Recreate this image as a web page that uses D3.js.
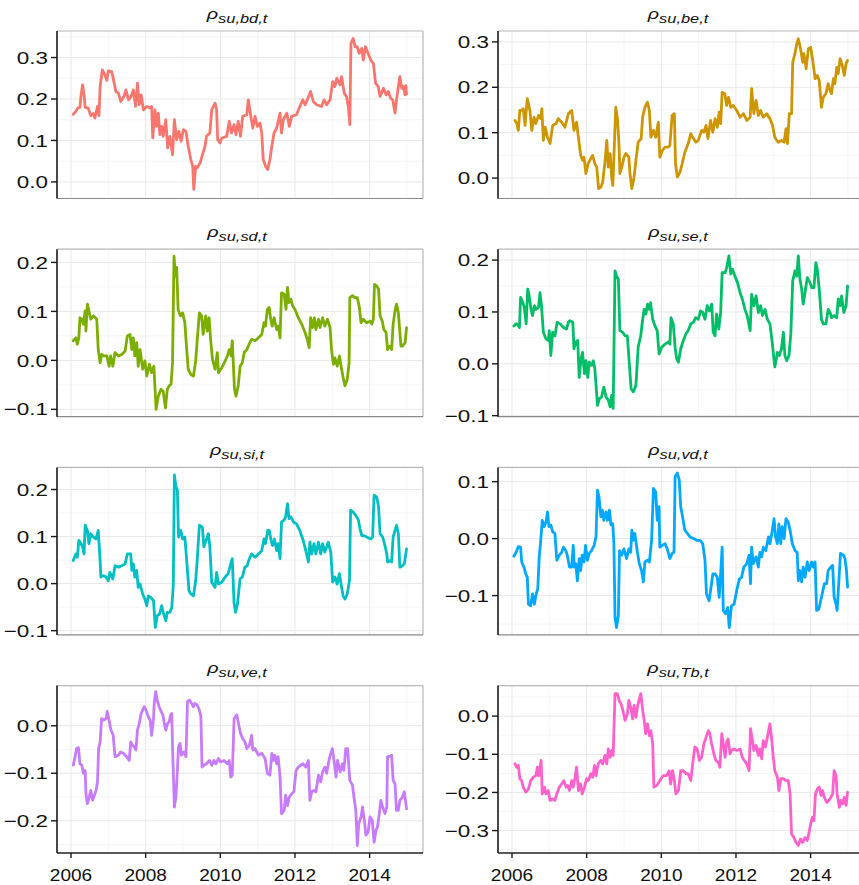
<!DOCTYPE html>
<html><head><meta charset="utf-8">
<script src="https://cdn.jsdelivr.net/npm/d3@7"></script>
<style>body{margin:0;background:#fff} svg{display:block}</style>
</head><body><svg id="c" width="859" height="885"></svg>
<script>
const seriesNames = ["bd","be","sd","se","si","vd","ve","Tb"];
const seriesColors = ["#F8766D","#CD9600","#7CAE00","#00BE67","#00BFC4","#00A9FF","#C77CFF","#FF61CC"];
const yTickValues = [
  [0,0.1,0.2,0.3],[0,0.1,0.2,0.3],
  [-0.1,0,0.1,0.2],[-0.1,0,0.1,0.2],
  [-0.1,0,0.1,0.2],[-0.1,0,0.1],
  [-0.2,-0.1,0],[-0.3,-0.2,-0.1,0]
];
const yDomains = [
  [-0.04,0.364],[-0.045,0.324],
  [-0.115,0.227],[-0.102,0.221],
  [-0.109,0.247],[-0.169,0.125],
  [-0.268,0.0845],[-0.359,0.080]
];
const xTickYears = [2006,2008,2010,2012,2014];
const xMinorYears = [2007,2009,2011,2013,2015];
const xDomain = [2005.625, 2015.43];

const bd = [[2006.06,0.163],[2006.13,0.170],[2006.18,0.178],[2006.24,0.180],[2006.27,0.210],[2006.31,0.234],[2006.35,0.210],[2006.38,0.180],[2006.46,0.178],[2006.53,0.160],[2006.60,0.165],[2006.64,0.154],[2006.71,0.182],[2006.75,0.160],[2006.78,0.230],[2006.84,0.270],[2006.91,0.258],[2006.96,0.245],[2007.00,0.268],[2007.09,0.266],[2007.15,0.242],[2007.20,0.218],[2007.27,0.214],[2007.33,0.194],[2007.42,0.206],[2007.47,0.222],[2007.54,0.198],[2007.61,0.206],[2007.67,0.222],[2007.73,0.182],[2007.78,0.238],[2007.83,0.186],[2007.88,0.210],[2007.94,0.174],[2008.03,0.182],[2008.12,0.178],[2008.16,0.182],[2008.19,0.106],[2008.25,0.174],[2008.29,0.134],[2008.34,0.166],[2008.38,0.114],[2008.43,0.134],[2008.47,0.110],[2008.54,0.150],[2008.59,0.082],[2008.65,0.110],[2008.72,0.066],[2008.77,0.150],[2008.83,0.102],[2008.89,0.122],[2008.95,0.098],[2009.01,0.126],[2009.08,0.122],[2009.14,0.086],[2009.21,0.054],[2009.26,0.038],[2009.29,-0.018],[2009.34,0.038],[2009.38,0.034],[2009.46,0.046],[2009.51,0.062],[2009.59,0.086],[2009.63,0.110],[2009.72,0.118],[2009.77,0.174],[2009.86,0.190],[2009.90,0.174],[2009.93,0.102],[2009.99,0.094],[2010.04,0.106],[2010.17,0.110],[2010.24,0.146],[2010.30,0.118],[2010.37,0.138],[2010.42,0.114],[2010.48,0.146],[2010.54,0.110],[2010.60,0.158],[2010.71,0.162],[2010.75,0.198],[2010.81,0.162],[2010.87,0.130],[2010.93,0.158],[2010.99,0.134],[2011.06,0.142],[2011.11,0.118],[2011.15,0.054],[2011.21,0.038],[2011.27,0.030],[2011.33,0.054],[2011.38,0.086],[2011.44,0.118],[2011.51,0.130],[2011.56,0.150],[2011.60,0.166],[2011.64,0.118],[2011.69,0.150],[2011.78,0.166],[2011.85,0.134],[2011.91,0.158],[2012.04,0.162],[2012.13,0.182],[2012.21,0.198],[2012.27,0.186],[2012.33,0.198],[2012.42,0.218],[2012.49,0.194],[2012.58,0.186],[2012.71,0.182],[2012.78,0.198],[2012.85,0.186],[2012.94,0.198],[2013.01,0.242],[2013.07,0.230],[2013.12,0.250],[2013.21,0.234],[2013.25,0.254],[2013.32,0.214],[2013.38,0.206],[2013.43,0.182],[2013.47,0.138],[2013.50,0.334],[2013.56,0.346],[2013.61,0.326],[2013.67,0.326],[2013.72,0.310],[2013.79,0.322],[2013.83,0.294],[2013.89,0.326],[2013.96,0.310],[2014.03,0.294],[2014.10,0.286],[2014.16,0.238],[2014.23,0.230],[2014.28,0.206],[2014.37,0.226],[2014.44,0.210],[2014.50,0.218],[2014.56,0.202],[2014.62,0.198],[2014.68,0.166],[2014.72,0.198],[2014.77,0.230],[2014.81,0.254],[2014.86,0.226],[2014.90,0.230],[2014.95,0.210],[2014.97,0.232],[2014.99,0.212]];

const be = [[2006.08,0.127],[2006.13,0.120],[2006.17,0.105],[2006.21,0.149],[2006.26,0.149],[2006.30,0.153],[2006.35,0.116],[2006.41,0.175],[2006.48,0.149],[2006.53,0.105],[2006.59,0.134],[2006.64,0.120],[2006.71,0.138],[2006.77,0.131],[2006.80,0.153],[2006.84,0.083],[2006.89,0.112],[2006.95,0.090],[2007.02,0.076],[2007.09,0.116],[2007.18,0.120],[2007.24,0.131],[2007.33,0.123],[2007.42,0.112],[2007.51,0.142],[2007.60,0.149],[2007.66,0.105],[2007.73,0.123],[2007.79,0.083],[2007.84,0.050],[2007.89,0.039],[2007.93,0.046],[2007.98,0.010],[2008.04,0.032],[2008.11,0.043],[2008.16,0.050],[2008.22,0.032],[2008.27,0.024],[2008.32,-0.023],[2008.38,-0.020],[2008.43,-0.009],[2008.49,0.035],[2008.54,0.083],[2008.58,0.024],[2008.63,0.054],[2008.67,0.002],[2008.70,-0.016],[2008.73,0.046],[2008.78,0.156],[2008.83,0.127],[2008.87,0.068],[2008.89,0.010],[2008.94,0.024],[2009.00,0.046],[2009.05,0.054],[2009.13,0.046],[2009.16,0.010],[2009.21,-0.023],[2009.27,0.002],[2009.32,0.039],[2009.38,0.079],[2009.46,0.087],[2009.50,0.134],[2009.56,0.156],[2009.63,0.167],[2009.68,0.149],[2009.72,0.090],[2009.79,0.105],[2009.85,0.090],[2009.92,0.123],[2009.96,0.046],[2010.03,0.061],[2010.10,0.068],[2010.19,0.068],[2010.23,0.072],[2010.29,0.138],[2010.35,0.142],[2010.38,0.032],[2010.43,0.002],[2010.50,0.013],[2010.56,0.032],[2010.63,0.057],[2010.72,0.076],[2010.79,0.098],[2010.86,0.087],[2010.93,0.079],[2010.99,0.083],[2011.08,0.105],[2011.14,0.101],[2011.20,0.116],[2011.25,0.087],[2011.32,0.127],[2011.38,0.101],[2011.44,0.131],[2011.50,0.112],[2011.55,0.145],[2011.59,0.120],[2011.63,0.189],[2011.70,0.186],[2011.75,0.160],[2011.80,0.178],[2011.86,0.156],[2011.93,0.160],[2012.02,0.149],[2012.11,0.134],[2012.20,0.142],[2012.29,0.127],[2012.38,0.134],[2012.42,0.197],[2012.48,0.142],[2012.54,0.171],[2012.60,0.138],[2012.66,0.149],[2012.73,0.134],[2012.82,0.142],[2012.91,0.131],[2012.98,0.116],[2013.04,0.090],[2013.13,0.079],[2013.22,0.083],[2013.29,0.079],[2013.34,0.109],[2013.38,0.076],[2013.43,0.142],[2013.49,0.142],[2013.52,0.255],[2013.58,0.274],[2013.63,0.296],[2013.67,0.307],[2013.73,0.285],[2013.79,0.255],[2013.82,0.274],[2013.88,0.241],[2013.94,0.285],[2014.00,0.288],[2014.05,0.263],[2014.12,0.219],[2014.18,0.226],[2014.23,0.215],[2014.29,0.156],[2014.34,0.178],[2014.41,0.186],[2014.47,0.208],[2014.52,0.193],[2014.56,0.186],[2014.61,0.219],[2014.65,0.208],[2014.70,0.244],[2014.74,0.230],[2014.79,0.263],[2014.85,0.248],[2014.90,0.226],[2014.95,0.252],[2014.99,0.259]];

const sd = [[2006.06,0.040],[2006.13,0.046],[2006.17,0.033],[2006.21,0.046],[2006.24,0.087],[2006.29,0.084],[2006.33,0.074],[2006.38,0.101],[2006.40,0.060],[2006.44,0.115],[2006.49,0.097],[2006.53,0.084],[2006.60,0.091],[2006.69,0.084],[2006.73,0.022],[2006.78,-0.005],[2006.82,0.012],[2006.88,0.009],[2006.96,0.009],[2007.02,-0.012],[2007.06,0.009],[2007.12,-0.012],[2007.18,0.016],[2007.27,0.009],[2007.36,0.012],[2007.45,0.019],[2007.51,0.050],[2007.58,0.053],[2007.63,0.022],[2007.67,0.046],[2007.71,0.009],[2007.76,0.036],[2007.80,-0.012],[2007.85,0.022],[2007.92,-0.018],[2007.98,-0.001],[2008.03,-0.032],[2008.10,-0.008],[2008.16,-0.025],[2008.22,-0.012],[2008.28,-0.100],[2008.34,-0.073],[2008.41,-0.059],[2008.47,-0.063],[2008.53,-0.097],[2008.58,-0.059],[2008.63,-0.052],[2008.68,-0.049],[2008.72,-0.005],[2008.76,0.213],[2008.80,0.172],[2008.83,0.190],[2008.87,0.104],[2008.93,0.091],[2008.99,0.097],[2009.05,0.077],[2009.10,0.022],[2009.14,-0.018],[2009.21,-0.029],[2009.28,-0.032],[2009.34,-0.001],[2009.38,0.040],[2009.44,0.097],[2009.50,0.091],[2009.54,0.053],[2009.61,0.091],[2009.65,0.060],[2009.70,0.087],[2009.74,0.043],[2009.79,0.002],[2009.86,-0.018],[2009.92,0.016],[2009.95,-0.025],[2010.04,-0.015],[2010.13,-0.001],[2010.19,0.009],[2010.24,0.022],[2010.29,0.009],[2010.32,0.040],[2010.38,-0.059],[2010.42,-0.073],[2010.48,-0.052],[2010.53,-0.012],[2010.59,-0.005],[2010.64,0.016],[2010.71,0.022],[2010.77,0.033],[2010.84,0.043],[2010.93,0.040],[2011.02,0.046],[2011.11,0.053],[2011.17,0.077],[2011.21,0.070],[2011.26,0.104],[2011.31,0.108],[2011.35,0.084],[2011.39,0.070],[2011.44,0.087],[2011.51,0.063],[2011.55,0.070],[2011.60,0.046],[2011.64,0.138],[2011.71,0.135],[2011.76,0.104],[2011.80,0.149],[2011.84,0.118],[2011.89,0.125],[2011.94,0.111],[2012.00,0.104],[2012.09,0.087],[2012.18,0.074],[2012.27,0.057],[2012.33,0.043],[2012.38,0.026],[2012.42,0.087],[2012.47,0.067],[2012.52,0.087],[2012.56,0.063],[2012.63,0.084],[2012.67,0.067],[2012.74,0.087],[2012.80,0.070],[2012.87,0.084],[2012.94,0.067],[2012.98,0.022],[2013.03,-0.008],[2013.07,0.005],[2013.13,-0.012],[2013.19,0.009],[2013.25,-0.018],[2013.29,-0.035],[2013.34,-0.052],[2013.40,-0.039],[2013.45,-0.005],[2013.47,0.128],[2013.54,0.132],[2013.61,0.128],[2013.67,0.128],[2013.72,0.111],[2013.77,0.077],[2013.83,0.084],[2013.92,0.077],[2014.02,0.080],[2014.06,0.074],[2014.10,0.084],[2014.13,0.155],[2014.19,0.152],[2014.24,0.145],[2014.28,0.091],[2014.34,0.080],[2014.38,0.063],[2014.44,0.057],[2014.48,0.022],[2014.54,0.029],[2014.59,0.022],[2014.63,0.074],[2014.68,0.101],[2014.72,0.115],[2014.77,0.097],[2014.81,0.057],[2014.84,0.029],[2014.88,0.029],[2014.95,0.036],[2014.99,0.067]];

const se = [[2006.05,0.073],[2006.11,0.077],[2006.14,0.077],[2006.20,0.070],[2006.23,0.128],[2006.29,0.118],[2006.33,0.109],[2006.38,0.077],[2006.42,0.144],[2006.46,0.131],[2006.51,0.105],[2006.55,0.093],[2006.60,0.112],[2006.64,0.105],[2006.71,0.109],[2006.75,0.137],[2006.79,0.112],[2006.84,0.061],[2006.91,0.048],[2006.97,0.045],[2007.00,0.064],[2007.04,0.016],[2007.09,0.061],[2007.15,0.054],[2007.21,0.080],[2007.29,0.077],[2007.38,0.070],[2007.46,0.067],[2007.51,0.080],[2007.55,0.083],[2007.63,0.080],[2007.66,0.029],[2007.71,0.042],[2007.76,0.045],[2007.80,-0.026],[2007.85,0.010],[2007.89,0.022],[2007.94,-0.019],[2007.98,0.006],[2008.03,-0.026],[2008.07,0.003],[2008.13,-0.003],[2008.18,0.006],[2008.22,-0.010],[2008.29,-0.080],[2008.34,-0.067],[2008.40,-0.064],[2008.46,-0.045],[2008.52,-0.064],[2008.58,-0.070],[2008.63,-0.083],[2008.67,-0.061],[2008.71,-0.086],[2008.76,0.179],[2008.80,0.169],[2008.85,0.163],[2008.89,0.064],[2008.96,0.061],[2009.03,0.054],[2009.09,0.054],[2009.14,0.003],[2009.19,-0.048],[2009.25,-0.054],[2009.32,-0.042],[2009.38,0.032],[2009.45,0.054],[2009.49,0.080],[2009.54,0.105],[2009.59,0.096],[2009.63,0.115],[2009.68,0.105],[2009.71,0.118],[2009.77,0.086],[2009.83,0.073],[2009.89,0.064],[2009.94,0.019],[2010.01,0.032],[2010.10,0.038],[2010.19,0.042],[2010.23,0.038],[2010.26,0.089],[2010.32,0.077],[2010.37,0.032],[2010.41,0.010],[2010.46,0.003],[2010.52,0.029],[2010.59,0.045],[2010.66,0.058],[2010.72,0.064],[2010.79,0.077],[2010.86,0.080],[2010.92,0.089],[2010.99,0.086],[2011.05,0.102],[2011.11,0.099],[2011.17,0.086],[2011.23,0.112],[2011.29,0.102],[2011.35,0.115],[2011.39,0.061],[2011.44,0.054],[2011.48,0.096],[2011.54,0.067],[2011.59,0.099],[2011.63,0.176],[2011.71,0.176],[2011.75,0.185],[2011.81,0.208],[2011.86,0.173],[2011.91,0.182],[2011.97,0.169],[2012.04,0.157],[2012.11,0.137],[2012.17,0.125],[2012.24,0.105],[2012.30,0.093],[2012.38,0.064],[2012.42,0.134],[2012.48,0.112],[2012.54,0.131],[2012.60,0.099],[2012.66,0.112],[2012.71,0.093],[2012.78,0.105],[2012.84,0.086],[2012.91,0.077],[2012.97,0.042],[2013.04,-0.006],[2013.11,0.022],[2013.16,0.016],[2013.22,0.029],[2013.27,0.061],[2013.31,0.016],[2013.36,0.006],[2013.42,0.016],[2013.47,0.058],[2013.52,0.160],[2013.58,0.179],[2013.63,0.169],[2013.67,0.208],[2013.71,0.166],[2013.76,0.144],[2013.80,0.115],[2013.85,0.137],[2013.91,0.166],[2013.98,0.157],[2014.03,0.147],[2014.09,0.147],[2014.14,0.195],[2014.18,0.182],[2014.23,0.144],[2014.29,0.086],[2014.34,0.077],[2014.41,0.077],[2014.47,0.105],[2014.52,0.099],[2014.56,0.089],[2014.63,0.093],[2014.70,0.089],[2014.74,0.125],[2014.79,0.112],[2014.83,0.131],[2014.89,0.099],[2014.95,0.112],[2014.99,0.150]];

const si = [[2006.06,0.049],[2006.13,0.063],[2006.17,0.056],[2006.21,0.092],[2006.27,0.085],[2006.31,0.078],[2006.35,0.063],[2006.38,0.124],[2006.44,0.113],[2006.48,0.085],[2006.53,0.106],[2006.60,0.099],[2006.67,0.095],[2006.73,0.113],[2006.78,0.049],[2006.80,0.014],[2006.87,0.017],[2006.94,0.014],[2007.00,0.006],[2007.04,0.024],[2007.12,0.010],[2007.18,0.038],[2007.27,0.035],[2007.36,0.038],[2007.45,0.042],[2007.51,0.063],[2007.60,0.063],[2007.63,0.028],[2007.67,0.042],[2007.71,0.014],[2007.76,0.028],[2007.80,-0.008],[2007.85,-0.001],[2007.92,-0.022],[2007.98,-0.033],[2008.03,-0.047],[2008.07,-0.026],[2008.13,-0.029],[2008.21,-0.036],[2008.26,-0.093],[2008.31,-0.068],[2008.37,-0.065],[2008.43,-0.047],[2008.47,-0.061],[2008.54,-0.079],[2008.58,-0.061],[2008.65,-0.061],[2008.70,-0.051],[2008.74,-0.004],[2008.77,0.231],[2008.81,0.206],[2008.85,0.199],[2008.88,0.099],[2008.94,0.113],[2008.99,0.095],[2009.05,0.099],[2009.10,0.049],[2009.16,-0.015],[2009.21,-0.022],[2009.28,-0.026],[2009.34,0.006],[2009.38,0.049],[2009.44,0.124],[2009.52,0.120],[2009.56,0.078],[2009.62,0.092],[2009.68,0.106],[2009.72,0.078],[2009.77,0.003],[2009.86,-0.008],[2009.90,0.024],[2009.95,-0.001],[2010.04,0.003],[2010.13,0.014],[2010.21,0.021],[2010.28,0.042],[2010.32,0.053],[2010.37,-0.043],[2010.41,-0.061],[2010.46,-0.043],[2010.53,0.010],[2010.59,0.014],[2010.66,0.035],[2010.72,0.038],[2010.78,0.053],[2010.84,0.063],[2010.93,0.056],[2011.02,0.063],[2011.11,0.070],[2011.17,0.095],[2011.21,0.085],[2011.27,0.113],[2011.31,0.113],[2011.36,0.092],[2011.40,0.081],[2011.45,0.095],[2011.51,0.070],[2011.55,0.085],[2011.60,0.053],[2011.64,0.131],[2011.71,0.135],[2011.75,0.142],[2011.80,0.170],[2011.84,0.138],[2011.89,0.142],[2011.96,0.131],[2012.04,0.127],[2012.13,0.113],[2012.22,0.092],[2012.29,0.070],[2012.36,0.046],[2012.40,0.088],[2012.45,0.063],[2012.51,0.085],[2012.56,0.063],[2012.63,0.088],[2012.69,0.063],[2012.74,0.085],[2012.80,0.067],[2012.89,0.088],[2012.96,0.067],[2013.01,0.003],[2013.07,0.014],[2013.13,-0.001],[2013.19,0.021],[2013.25,-0.008],[2013.29,-0.026],[2013.34,-0.033],[2013.40,-0.022],[2013.46,0.006],[2013.49,0.156],[2013.56,0.152],[2013.63,0.145],[2013.70,0.135],[2013.74,0.117],[2013.79,0.102],[2013.85,0.102],[2013.92,0.099],[2014.03,0.095],[2014.08,0.099],[2014.12,0.188],[2014.19,0.184],[2014.24,0.163],[2014.28,0.106],[2014.35,0.099],[2014.41,0.081],[2014.46,0.063],[2014.48,0.046],[2014.54,0.049],[2014.59,0.046],[2014.63,0.099],[2014.68,0.113],[2014.72,0.124],[2014.77,0.106],[2014.81,0.035],[2014.88,0.038],[2014.93,0.042],[2014.99,0.074]];

const vd = [[2006.05,-0.031],[2006.11,-0.024],[2006.17,-0.014],[2006.23,-0.015],[2006.26,-0.041],[2006.32,-0.050],[2006.37,-0.062],[2006.41,-0.068],[2006.44,-0.115],[2006.50,-0.118],[2006.55,-0.097],[2006.60,-0.115],[2006.64,-0.100],[2006.69,-0.088],[2006.73,-0.032],[2006.77,-0.003],[2006.81,0.032],[2006.86,0.021],[2006.91,0.029],[2006.95,0.047],[2006.99,0.021],[2007.04,0.024],[2007.09,0.012],[2007.15,0.009],[2007.20,-0.038],[2007.27,-0.029],[2007.33,-0.024],[2007.38,-0.015],[2007.44,-0.021],[2007.48,-0.029],[2007.54,-0.050],[2007.60,-0.050],[2007.64,-0.012],[2007.67,-0.050],[2007.71,-0.044],[2007.75,-0.074],[2007.80,-0.035],[2007.84,-0.056],[2007.88,-0.029],[2007.93,-0.041],[2007.97,-0.012],[2008.02,-0.038],[2008.07,-0.026],[2008.13,-0.021],[2008.20,-0.012],[2008.25,0.003],[2008.29,0.085],[2008.33,0.074],[2008.38,0.038],[2008.42,0.050],[2008.46,0.032],[2008.52,0.047],[2008.56,0.032],[2008.61,0.050],[2008.65,0.024],[2008.70,0.026],[2008.73,-0.009],[2008.76,-0.138],[2008.80,-0.156],[2008.85,-0.135],[2008.88,-0.021],[2008.94,-0.029],[2009.00,-0.018],[2009.07,-0.035],[2009.13,-0.018],[2009.18,-0.024],[2009.21,0.015],[2009.25,-0.003],[2009.29,0.009],[2009.36,-0.024],[2009.41,-0.044],[2009.47,-0.056],[2009.52,-0.076],[2009.56,-0.041],[2009.63,-0.038],[2009.68,-0.041],[2009.74,-0.003],[2009.79,0.088],[2009.85,0.082],[2009.89,0.032],[2009.94,0.056],[2009.96,-0.015],[2010.03,-0.012],[2010.10,-0.009],[2010.16,-0.018],[2010.23,-0.035],[2010.29,-0.026],[2010.34,-0.024],[2010.37,0.109],[2010.43,0.115],[2010.48,0.103],[2010.52,0.056],[2010.57,0.038],[2010.63,0.015],[2010.70,0.009],[2010.77,0.003],[2010.86,0.000],[2010.95,-0.003],[2011.04,-0.003],[2011.11,-0.009],[2011.17,-0.038],[2011.21,-0.097],[2011.28,-0.109],[2011.32,-0.091],[2011.38,-0.062],[2011.44,-0.062],[2011.50,-0.068],[2011.55,-0.103],[2011.59,-0.062],[2011.63,-0.015],[2011.66,-0.126],[2011.72,-0.132],[2011.78,-0.121],[2011.82,-0.156],[2011.88,-0.118],[2011.95,-0.115],[2012.02,-0.091],[2012.09,-0.071],[2012.15,-0.068],[2012.21,-0.050],[2012.29,-0.044],[2012.35,-0.029],[2012.39,-0.079],[2012.42,-0.015],[2012.46,-0.044],[2012.54,-0.032],[2012.60,-0.050],[2012.64,-0.024],[2012.69,-0.032],[2012.73,-0.015],[2012.80,-0.021],[2012.87,0.003],[2012.91,-0.009],[2012.96,0.009],[2013.02,0.035],[2013.06,0.003],[2013.11,-0.009],[2013.15,0.026],[2013.20,-0.009],[2013.24,0.021],[2013.29,0.000],[2013.34,0.035],[2013.40,0.029],[2013.45,0.015],[2013.51,-0.009],[2013.58,-0.021],[2013.64,-0.024],[2013.67,-0.074],[2013.71,-0.056],[2013.76,-0.076],[2013.80,-0.050],[2013.85,-0.068],[2013.91,-0.041],[2013.96,-0.056],[2014.03,-0.041],[2014.07,-0.050],[2014.12,-0.041],[2014.16,-0.126],[2014.22,-0.124],[2014.27,-0.109],[2014.31,-0.097],[2014.37,-0.079],[2014.43,-0.079],[2014.47,-0.056],[2014.54,-0.050],[2014.59,-0.047],[2014.63,-0.103],[2014.68,-0.115],[2014.71,-0.126],[2014.76,-0.071],[2014.80,-0.026],[2014.88,-0.029],[2014.92,-0.035],[2014.96,-0.056],[2014.99,-0.085]];

const ve = [[2006.06,-0.083],[2006.11,-0.065],[2006.15,-0.048],[2006.20,-0.046],[2006.24,-0.080],[2006.29,-0.083],[2006.33,-0.100],[2006.38,-0.094],[2006.40,-0.143],[2006.44,-0.164],[2006.49,-0.150],[2006.53,-0.136],[2006.58,-0.157],[2006.63,-0.146],[2006.67,-0.136],[2006.71,-0.118],[2006.74,-0.048],[2006.78,-0.034],[2006.82,0.015],[2006.88,0.012],[2006.94,0.015],[2006.97,0.030],[2007.03,0.008],[2007.07,-0.009],[2007.13,-0.020],[2007.18,-0.065],[2007.27,-0.062],[2007.33,-0.055],[2007.40,-0.058],[2007.49,-0.065],[2007.56,-0.073],[2007.60,-0.034],[2007.65,-0.041],[2007.69,-0.044],[2007.74,-0.051],[2007.78,-0.009],[2007.83,0.005],[2007.87,0.023],[2007.92,0.033],[2007.96,0.040],[2008.01,0.033],[2008.07,0.019],[2008.12,0.012],[2008.16,-0.020],[2008.21,0.015],[2008.23,0.047],[2008.27,0.072],[2008.31,0.054],[2008.36,0.040],[2008.40,0.033],[2008.46,0.023],[2008.50,0.005],[2008.54,-0.009],[2008.59,0.005],[2008.63,0.008],[2008.67,0.023],[2008.70,0.026],[2008.72,-0.044],[2008.77,-0.171],[2008.81,-0.150],[2008.85,-0.094],[2008.88,-0.044],[2008.92,-0.037],[2008.96,-0.062],[2009.03,-0.055],[2009.08,-0.065],[2009.12,0.051],[2009.17,0.054],[2009.23,0.047],[2009.28,0.040],[2009.32,0.047],[2009.38,0.044],[2009.44,0.033],[2009.48,0.019],[2009.51,-0.087],[2009.56,-0.083],[2009.63,-0.080],[2009.71,-0.073],[2009.77,-0.083],[2009.83,-0.073],[2009.88,-0.080],[2009.95,-0.069],[2010.01,-0.076],[2010.10,-0.073],[2010.19,-0.080],[2010.24,-0.073],[2010.28,-0.108],[2010.32,-0.104],[2010.37,0.015],[2010.44,0.023],[2010.48,0.008],[2010.54,-0.016],[2010.60,-0.027],[2010.66,-0.034],[2010.71,-0.048],[2010.78,-0.041],[2010.84,-0.020],[2010.87,-0.051],[2010.93,-0.048],[2011.02,-0.062],[2011.11,-0.058],[2011.20,-0.069],[2011.26,-0.100],[2011.33,-0.104],[2011.38,-0.058],[2011.42,-0.073],[2011.46,-0.062],[2011.51,-0.080],[2011.55,-0.065],[2011.60,-0.108],[2011.64,-0.185],[2011.71,-0.178],[2011.75,-0.146],[2011.80,-0.168],[2011.85,-0.150],[2011.91,-0.143],[2011.97,-0.139],[2012.03,-0.094],[2012.09,-0.087],[2012.15,-0.083],[2012.22,-0.080],[2012.29,-0.087],[2012.36,-0.073],[2012.40,-0.157],[2012.45,-0.139],[2012.51,-0.136],[2012.56,-0.139],[2012.63,-0.104],[2012.69,-0.118],[2012.74,-0.097],[2012.80,-0.087],[2012.85,-0.100],[2012.91,-0.073],[2012.96,-0.058],[2013.00,-0.048],[2013.04,-0.069],[2013.10,-0.108],[2013.14,-0.073],[2013.21,-0.097],[2013.27,-0.080],[2013.31,-0.094],[2013.36,-0.048],[2013.41,-0.048],[2013.47,-0.115],[2013.54,-0.125],[2013.58,-0.150],[2013.63,-0.178],[2013.67,-0.252],[2013.71,-0.206],[2013.77,-0.192],[2013.81,-0.171],[2013.86,-0.199],[2013.90,-0.230],[2013.96,-0.224],[2014.01,-0.192],[2014.07,-0.199],[2014.12,-0.245],[2014.17,-0.220],[2014.21,-0.213],[2014.26,-0.185],[2014.30,-0.157],[2014.35,-0.171],[2014.41,-0.185],[2014.46,-0.171],[2014.48,-0.065],[2014.54,-0.065],[2014.59,-0.062],[2014.63,-0.115],[2014.68,-0.122],[2014.72,-0.178],[2014.77,-0.178],[2014.81,-0.157],[2014.88,-0.150],[2014.93,-0.139],[2014.99,-0.175]];

const Tb = [[2006.08,-0.125],[2006.13,-0.134],[2006.17,-0.129],[2006.21,-0.164],[2006.26,-0.169],[2006.30,-0.186],[2006.37,-0.199],[2006.44,-0.191],[2006.50,-0.169],[2006.57,-0.160],[2006.64,-0.156],[2006.68,-0.134],[2006.72,-0.156],[2006.78,-0.116],[2006.81,-0.204],[2006.87,-0.186],[2006.91,-0.204],[2006.97,-0.195],[2007.02,-0.221],[2007.09,-0.217],[2007.15,-0.221],[2007.20,-0.204],[2007.27,-0.186],[2007.33,-0.178],[2007.39,-0.169],[2007.45,-0.186],[2007.49,-0.182],[2007.54,-0.195],[2007.60,-0.169],[2007.64,-0.186],[2007.69,-0.160],[2007.73,-0.134],[2007.78,-0.195],[2007.84,-0.178],[2007.88,-0.204],[2007.94,-0.186],[2008.00,-0.164],[2008.05,-0.169],[2008.11,-0.151],[2008.16,-0.160],[2008.21,-0.129],[2008.25,-0.156],[2008.31,-0.125],[2008.38,-0.116],[2008.43,-0.125],[2008.49,-0.103],[2008.54,-0.125],[2008.58,-0.086],[2008.63,-0.108],[2008.67,-0.090],[2008.71,-0.103],[2008.76,0.059],[2008.82,0.059],[2008.87,0.041],[2008.92,0.032],[2008.96,0.019],[2009.03,-0.011],[2009.09,0.006],[2009.13,0.041],[2009.19,0.019],[2009.23,-0.007],[2009.27,0.028],[2009.32,-0.003],[2009.36,0.024],[2009.40,0.041],[2009.45,0.059],[2009.49,0.024],[2009.54,-0.011],[2009.58,-0.046],[2009.63,-0.020],[2009.68,-0.051],[2009.72,-0.038],[2009.77,-0.073],[2009.80,-0.186],[2009.88,-0.182],[2009.96,-0.169],[2010.05,-0.156],[2010.14,-0.156],[2010.21,-0.143],[2010.25,-0.178],[2010.30,-0.143],[2010.35,-0.169],[2010.39,-0.204],[2010.46,-0.195],[2010.52,-0.143],[2010.59,-0.143],[2010.66,-0.151],[2010.72,-0.151],[2010.79,-0.169],[2010.84,-0.125],[2010.90,-0.081],[2010.96,-0.086],[2011.02,-0.116],[2011.08,-0.108],[2011.14,-0.073],[2011.20,-0.055],[2011.26,-0.038],[2011.30,-0.046],[2011.35,-0.073],[2011.41,-0.099],[2011.46,-0.116],[2011.53,-0.121],[2011.57,-0.134],[2011.62,-0.046],[2011.66,-0.073],[2011.71,-0.108],[2011.75,-0.068],[2011.79,-0.060],[2011.84,-0.099],[2011.88,-0.090],[2011.95,-0.086],[2012.02,-0.090],[2012.11,-0.086],[2012.17,-0.108],[2012.22,-0.116],[2012.29,-0.125],[2012.35,-0.143],[2012.39,-0.033],[2012.44,-0.064],[2012.48,-0.090],[2012.54,-0.077],[2012.60,-0.103],[2012.64,-0.086],[2012.69,-0.112],[2012.73,-0.064],[2012.79,-0.081],[2012.85,-0.051],[2012.91,-0.020],[2012.96,-0.064],[2013.00,-0.108],[2013.04,-0.143],[2013.11,-0.160],[2013.15,-0.195],[2013.20,-0.164],[2013.27,-0.164],[2013.34,-0.169],[2013.40,-0.169],[2013.45,-0.204],[2013.49,-0.309],[2013.55,-0.318],[2013.61,-0.331],[2013.67,-0.339],[2013.73,-0.322],[2013.79,-0.331],[2013.85,-0.318],[2013.91,-0.326],[2013.96,-0.304],[2014.00,-0.283],[2014.05,-0.265],[2014.09,-0.274],[2014.13,-0.204],[2014.18,-0.191],[2014.23,-0.186],[2014.28,-0.208],[2014.32,-0.195],[2014.37,-0.213],[2014.43,-0.226],[2014.49,-0.221],[2014.54,-0.213],[2014.59,-0.204],[2014.63,-0.143],[2014.68,-0.156],[2014.71,-0.204],[2014.77,-0.239],[2014.81,-0.221],[2014.86,-0.230],[2014.90,-0.213],[2014.95,-0.234],[2014.99,-0.199]];

const seriesData = [bd, be, sd, se, si, vd, ve, Tb];

// layout
const colLeft = [57, 498];
const panelW = 366;
const rowTop0 = 31, rowPitch = 218.2, panelH = 167.5;
const fontFam = "'Liberation Sans', Arial, Helvetica, sans-serif";

const svg = d3.select("#c");
const fmt = d3.format(".1f");

seriesNames.forEach((name, i) => {
  const col = i % 2, row = Math.floor(i / 2);
  const left = colLeft[col], top = rowTop0 + row * rowPitch;
  const x = d3.scaleLinear().domain(xDomain).range([left, left + panelW]);
  const y = d3.scaleLinear().domain(yDomains[i]).range([top + panelH, top]);
  const g = svg.append("g");

  g.append("rect").attr("x", left).attr("y", top).attr("width", panelW).attr("height", panelH).attr("fill", "#fff");

  const yt = yTickValues[i];
  const yMinor = [];
  for (let k = -10; k <= 10; k++) {
    const v = k * 0.1 + 0.05;
    if (v > yDomains[i][0] && v < yDomains[i][1]) yMinor.push(v);
  }

  g.selectAll(".ymin").data(yMinor).enter().append("line")
    .attr("x1", left).attr("x2", left + panelW)
    .attr("y1", d => y(d)).attr("y2", d => y(d))
    .attr("stroke", "#f2f2f2").attr("stroke-width", 0.8);
  g.selectAll(".xmin").data(xMinorYears).enter().append("line")
    .attr("x1", d => x(d)).attr("x2", d => x(d))
    .attr("y1", top).attr("y2", top + panelH)
    .attr("stroke", "#f2f2f2").attr("stroke-width", 0.8);
  g.selectAll(".ymaj").data(yt).enter().append("line")
    .attr("x1", left).attr("x2", left + panelW)
    .attr("y1", d => y(d)).attr("y2", d => y(d))
    .attr("stroke", "#e8e8e8").attr("stroke-width", 1);
  g.selectAll(".xmaj").data(xTickYears).enter().append("line")
    .attr("x1", d => x(d)).attr("x2", d => x(d))
    .attr("y1", top).attr("y2", top + panelH)
    .attr("stroke", "#e8e8e8").attr("stroke-width", 1);

  const cid = "clip" + i;
  svg.append("clipPath").attr("id", cid).append("rect")
    .attr("x", left).attr("y", top).attr("width", panelW).attr("height", panelH);

  const line = d3.line().x(d => x(d[0])).y(d => y(d[1]));
  g.append("path").datum(seriesData[i])
    .attr("d", line)
    .attr("fill", "none")
    .attr("stroke", seriesColors[i])
    .attr("stroke-width", 2.8)
    .attr("stroke-linejoin", "round")
    .attr("stroke-linecap", "round")
    .attr("clip-path", `url(#${cid})`);

  g.append("line").attr("x1", left).attr("x2", left + panelW).attr("y1", top).attr("y2", top)
    .attr("stroke", "#b8b8b8").attr("stroke-width", 1.2);
  g.append("line").attr("x1", left + panelW).attr("x2", left + panelW).attr("y1", top).attr("y2", top + panelH)
    .attr("stroke", "#b8b8b8").attr("stroke-width", 1.2);
  const isBottom = row === 3;
  g.append("line").attr("x1", left).attr("x2", left + panelW).attr("y1", top + panelH).attr("y2", top + panelH)
    .attr("stroke", isBottom ? "#222" : "#8a8a8a").attr("stroke-width", isBottom ? 1.5 : 1.2);
  g.append("line").attr("x1", left).attr("x2", left).attr("y1", top).attr("y2", top + panelH)
    .attr("stroke", "#1a1a1a").attr("stroke-width", 1.6);

  g.selectAll(".ytk").data(yt).enter().append("line")
    .attr("x1", left - 6).attr("x2", left)
    .attr("y1", d => y(d)).attr("y2", d => y(d))
    .attr("stroke", "#1a1a1a").attr("stroke-width", 1.4);
  g.selectAll(".ylb").data(yt).enter().append("text")
    .attr("transform", d => `translate(${left - 9},${y(d)}) scale(1.32,1)`)
    .attr("dy", "0.36em")
    .attr("text-anchor", "end")
    .attr("font-family", fontFam)
    .attr("font-size", 17)
    .attr("fill", "#111")
    .text(d => fmt(d));

  if (isBottom) {
    g.selectAll(".xtk").data(xTickYears).enter().append("line")
      .attr("x1", d => x(d)).attr("x2", d => x(d))
      .attr("y1", top + panelH).attr("y2", top + panelH + 5)
      .attr("stroke", "#1a1a1a").attr("stroke-width", 1.4);
    g.selectAll(".xlb").data(xTickYears).enter().append("text")
      .attr("transform", d => `translate(${x(d)},${880.5}) scale(1.12,1)`)
      .attr("text-anchor", "middle")
      .attr("font-family", fontFam)
      .attr("font-size", 17)
      .attr("fill", "#111")
      .text(d => d);
  }

  const cx = left + panelW / 2 - 3;
  const t = g.append("text")
    .attr("transform", `translate(${cx},${top - 12.5}) scale(1.28,1)`)
    .attr("text-anchor", "middle")
    .attr("font-family", fontFam)
    .attr("font-style", "italic")
    .attr("fill", "#111");
  t.append("tspan").attr("font-size", 15.5).text("ρ");
  t.append("tspan").attr("font-size", 12.8).attr("dy", 4.3).text("su," + name + ",t");
});
</script>
</body></html>
